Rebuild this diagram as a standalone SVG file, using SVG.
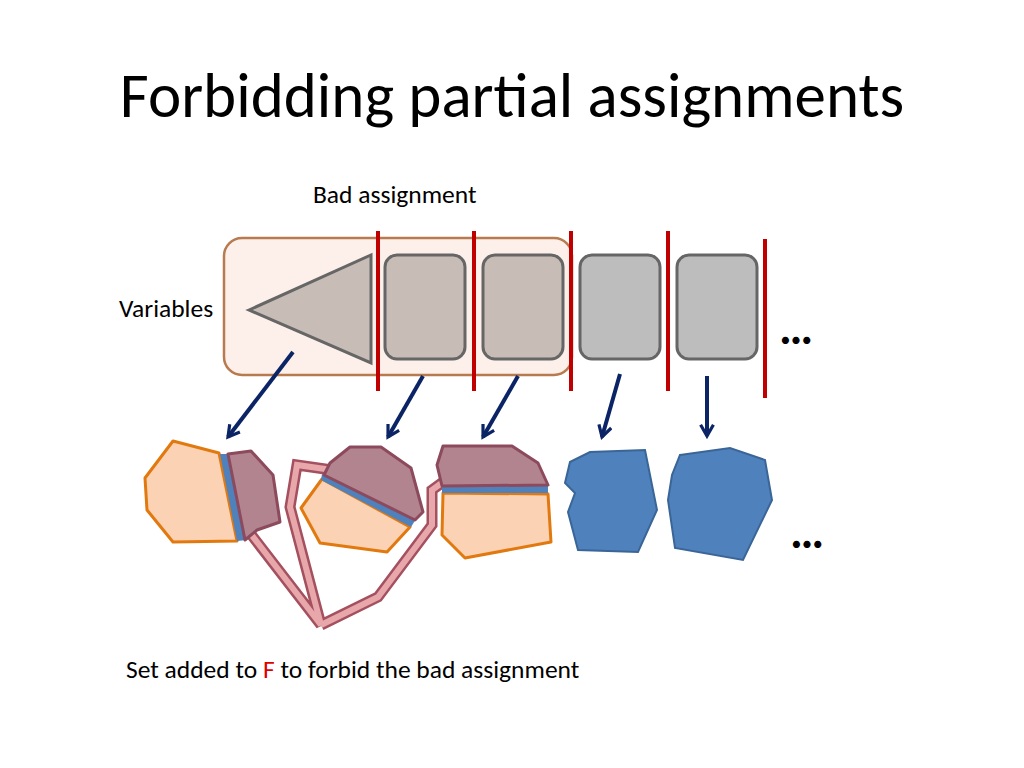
<svg xmlns="http://www.w3.org/2000/svg" width="1024" height="768" viewBox="0 0 1024 768">
<style>
text{font-family:Calibri,Carlito,"Liberation Sans",sans-serif;fill:#000}
.sq{fill:#bdbdbd;stroke:#666;stroke-width:3}
.sel{fill:#c7bcb6}
.red{stroke:#c00000;stroke-width:4}
.arr{stroke:#0b2466;stroke-width:4;fill:none;marker-end:url(#ah)}
.or{fill:#fbd2b3;stroke:#e2790f;stroke-width:3;stroke-linejoin:round}
.pu{fill:#b2848f;stroke:#8c4a5c;stroke-width:3;stroke-linejoin:round}
.bl{fill:#4f81bd;stroke:#3a6597;stroke-width:2}
</style>
<defs>
<marker id="ah" viewBox="0 0 10 10" refX="8" refY="5" markerWidth="4" markerHeight="4" orient="auto" markerUnits="strokeWidth">
<path d="M1,1 L8,5 L1,9" fill="none" stroke="#0b2466" stroke-width="2"/>
</marker>
</defs>
<rect width="1024" height="768" fill="#fff"/>
<text x="512" y="117" font-size="63" text-anchor="middle">Forbidding partial assignments</text>
<text x="313" y="203" font-size="25.5">Bad assignment</text>
<text x="119" y="317" font-size="25.5">Variables</text>
<text x="126" y="678" font-size="25.5">Set added to <tspan fill="#e00000" style="fill:#e00000">F</tspan> to forbid the bad assignment</text>
<text x="779" y="344" font-size="48" font-weight="bold">…</text>
<text x="790" y="548" font-size="48" font-weight="bold">…</text>
<g id="variables">
<rect x="224" y="238" width="348" height="137" rx="18" fill="#fdf0ea" stroke="#b87a4f" stroke-width="2.5"/>
<polygon points="249,310 371,255 371,363" class="sq sel"/>
<rect x="385" y="255" width="80" height="104" rx="12" class="sq sel"/>
<rect x="483" y="255" width="80" height="104" rx="12" class="sq sel"/>
<rect x="580" y="255" width="80" height="104" rx="12" class="sq"/>
<rect x="677" y="255" width="80" height="104" rx="12" class="sq"/>
</g>
<g id="dividers">
<line x1="378" y1="231" x2="378" y2="391" class="red"/>
<line x1="474" y1="231" x2="474" y2="391" class="red"/>
<line x1="571" y1="231" x2="571" y2="391" class="red"/>
<line x1="668" y1="231" x2="668" y2="391" class="red"/>
<line x1="765" y1="239" x2="765" y2="398" class="red"/>
</g>
<g id="connectors">
<line x1="293" y1="352" x2="228" y2="437" class="arr"/>
<line x1="423" y1="376" x2="388" y2="437" class="arr"/>
<line x1="518" y1="376" x2="483" y2="437" class="arr"/>
<line x1="620" y1="374" x2="602" y2="437" class="arr"/>
<line x1="707" y1="376" x2="707" y2="436" class="arr"/>
</g>
<g id="forbidden-set">
<path d="M250,533 L321,625 L290,507 L297,465 L332,470 M321,625 L378,597 L432,525 L432,490 L443,482" fill="none" stroke="#a4505e" stroke-width="11" stroke-linejoin="miter"/>
<path d="M250,533 L321,625 L290,507 L297,465 L332,470 M321,625 L378,597 L432,525 L432,490 L443,482" fill="none" stroke="#e8a7aa" stroke-width="6" stroke-linejoin="miter"/>
</g>
<g id="domain1">
<polygon points="173,441 219,453 237,541 173,542 147,510 145,478" class="or"/>
<polygon points="220,454 229,454 247,540 237,541" fill="#4f81bd"/>
<polygon points="228,454 251,451 273,475 280,522 257,530 245,540" class="pu"/>
</g>
<g id="domain2">
<polygon points="322,479 410,527 387,552 320,543 301,508" class="or"/>
<polygon points="322,474 416,519 411,527 321,480" fill="#4f81bd"/>
<polygon points="330,463 350,447 381,447 411,468 423,512 415,520 324,475" class="pu"/>
</g>
<g id="domain3">
<polygon points="443,493 548,494 551,542 465,558 442,535" class="or"/>
<rect x="442" y="486" width="106" height="7" fill="#4f81bd"/>
<polygon points="443,446 512,446 538,463 548,485 442,486 437,465" class="pu"/>
</g>
<g id="domain4">
<polygon points="570,462 590,452 645,450 657,510 638,552 578,550 568,512 575,493 565,483" class="bl"/>
</g>
<g id="domain5">
<polygon points="680,455 730,448 765,460 772,500 743,560 675,548 668,500 672,475" class="bl"/>
</g>
</svg>
